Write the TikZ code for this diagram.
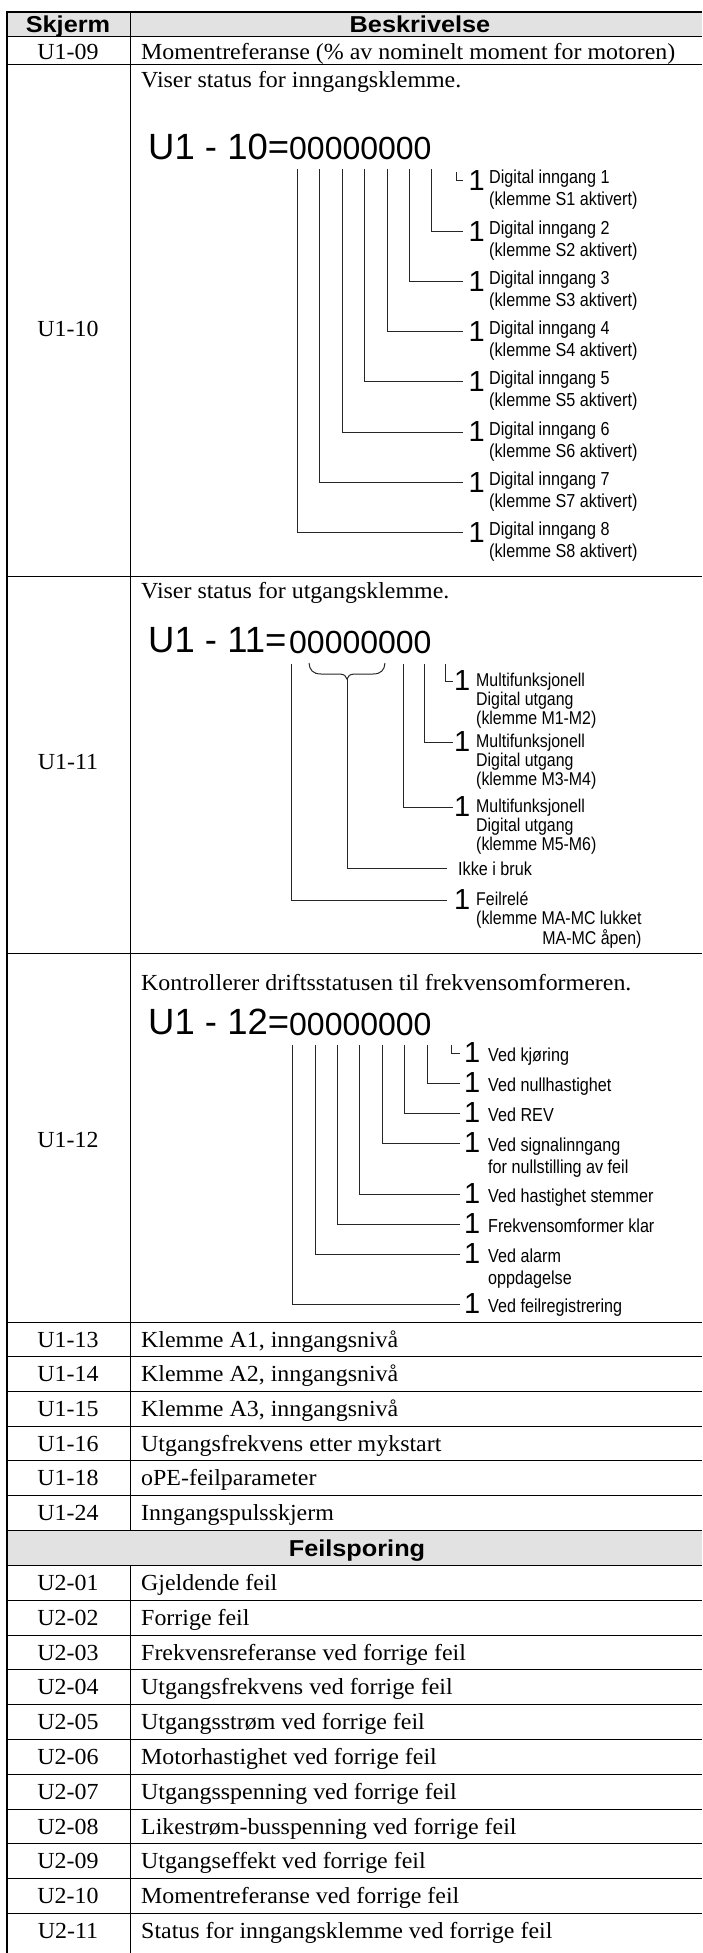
\documentclass[tikz,border=0pt]{standalone}
\usepackage{fontspec}
\setmainfont{Liberation Serif}
\newfontfamily\cellfont[FakeStretch=1.04]{Liberation Serif}
\newfontfamily\narrowfont[FakeStretch=0.86]{Liberation Sans}
\newfontfamily\plainsans{Liberation Sans}
\newfontfamily\hdrfont[FakeStretch=1.1]{Liberation Sans}
\definecolor{hdrgray}{HTML}{E2E2E2}
\newcommand\twolines[2]{\begin{tabular}[t]{@{}l@{}}#1\\#2\end{tabular}}
\newcommand\threelines[3]{\begin{tabular}[t]{@{}l@{}}#1\\#2\\#3\end{tabular}}
\tikzset{
  rcell/.style={font=\cellfont\fontsize{23}{27}\selectfont, inner sep=0pt, anchor=base west},
  codecell/.style={font=\cellfont\fontsize{23}{27}\selectfont, inner sep=0pt, anchor=base},
  hdrcell/.style={font=\hdrfont\bfseries\fontsize{23}{27}\selectfont, inner sep=0pt, anchor=base},
  bigcode/.style={font=\plainsans\fontsize{36.5}{40}\selectfont, inner sep=0pt, anchor=base west},
  zerostyle/.style={font=\plainsans\fontsize{32}{36}\selectfont, inner sep=0pt, anchor=base west},
  bigone/.style={font=\plainsans\fontsize{29}{33}\selectfont, inner sep=0pt, anchor=west},
  dlab/.style={font=\narrowfont\fontsize{18.8}{22}\selectfont, inner sep=0pt, anchor=base west},
  dlabtight/.style={font=\narrowfont\fontsize{18.5}{18.9}\selectfont, inner sep=0pt, anchor=base west},
  wire/.style={line width=1pt, draw=black!85},
  tblrule/.style={line width=1pt, draw=black},
  tblframe/.style={line width=2pt, draw=black},
}
\begin{document}
\begin{tikzpicture}[x=1pt,y=-1pt]
\useasboundingbox (0,0) rectangle (702,1953);
% gray bands
\fill[hdrgray] (7,12) rectangle (702,37);
\fill[hdrgray] (7,1530.2) rectangle (702,1565.5);
% header
\node[hdrcell] (hskjerm) at (68,32.5) {Skjerm};
\node[hdrcell] (hbeskr) at (420,32.5) {Beskrivelse};
% U1-09
\node[codecell] (k09) at (68,59.5) {U1-09};
\node[rcell] (v09) at (141,59.5) {Momentreferanse (\% av nominelt moment for motoren)};
% big rows labels
\node[codecell] (k10) at (68,336) {U1-10};
\node[codecell] (k11) at (68,769) {U1-11};
\node[codecell] (k12) at (68,1147) {U1-12};

% ---------- U1-10 ----------
\node[rcell] (d10) at (141,88) {Viser status for inngangsklemme.};
\node[bigcode] (u10) at (148,160) {U1 - 10=};
\node[zerostyle] (z10) at (289,160) {00000000};
\foreach \k/\x/\r in {8/297.5/532.4, 7/319.9/482.2, 6/342.3/432, 5/364.7/381.8, 4/387.1/331.6, 3/409.5/281.4, 2/431.9/231.2}{
  \coordinate (p10b\k) at (\x,169);
  \node[bigone] (o10b\k) at (468.5,\r) {1};
  \node[dlab] (t10b\k) at (489,\r+3) {\twolines{Digital inngang \k}{(klemme S\k{} aktivert)}};
  \draw[wire] (p10b\k) |- ([xshift=-5.5pt]o10b\k.west);
}
\coordinate (p10b1) at (456,172);
\node[bigone] (o10b1) at (468.5,181) {1};
\node[dlab] (t10b1) at (489,184) {\twolines{Digital inngang 1}{(klemme S1 aktivert)}};
\draw[wire] (p10b1) |- ([xshift=-5.5pt]o10b1.west);

% ---------- U1-11 ----------
\node[rcell] (d11) at (141,598) {Viser status for utgangsklemme.};
\node[bigcode] (u11) at (148,652) {U1 - 11=};
\node[zerostyle] (z11) at (289,653) {00000000};
\foreach \k/\x/\r/\m in {3/403/807/M5-M6, 2/424/742/M3-M4, 1/445/681/M1-M2}{
  \coordinate (p11b\k) at (\x,664);
  \node[bigone] (o11b\k) at (454,\r) {1};
  \node[dlabtight] (t11b\k) at (476,\r+5) {\threelines{Multifunksjonell}{Digital utgang}{(klemme \m)}};
  \draw[wire] (p11b\k) |- ([xshift=-1pt]o11b\k.west);
}
\coordinate (p11bl) at (309,663);
\coordinate (p11tip) at (347,679);
\coordinate (p11br) at (385,663);
\draw[wire] (p11bl) .. controls (309.5,670) and (313,674) .. (321,674) -- (339,674)
  .. controls (344,674) and (346.5,676) .. (p11tip)
  .. controls (347.5,676) and (350,674) .. (355,674) -- (373,674)
  .. controls (381,674) and (384.5,670) .. (p11br);
\coordinate (e11ikke) at (447,868);
\node[dlab] (t11ikke) at (458,875) {Ikke i bruk};
\draw[wire] (p11tip) |- (e11ikke);
\coordinate (p11b8) at (291.5,664);
\node[bigone] (o11b8) at (454,900) {1};
\node[dlabtight] (t11b8) at (476,905) {\threelines{Feilrelé}{(klemme MA-MC lukket}{\hfill MA-MC åpen)}};
\draw[wire] (p11b8) |- ([xshift=-7pt]o11b8.west);

% ---------- U1-12 ----------
\node[rcell] (d12) at (141,990) {Kontrollerer driftsstatusen til frekvensomformeren.};
\node[bigcode] (u12) at (148,1034) {U1 - 12=};
\node[zerostyle] (z12) at (289,1035) {00000000};
\foreach \k/\x/\r/\t in {8/292.6/1304/Ved feilregistrering, 6/337.4/1224/Frekvensomformer klar, 5/359.8/1194/Ved hastighet stemmer, 3/404.6/1113/Ved REV, 2/427/1083/Ved nullhastighet, 1/451/1053/Ved kjøring}{
  \coordinate (p12b\k) at (\x,1045);
  \node[bigone] (o12b\k) at (464,\r) {1};
  \node[dlab] (t12b\k) at (488,\r+8) {\t};
  \draw[wire] (p12b\k) |- ([xshift=-4pt]o12b\k.west);
}
\foreach \k/\x/\r/\t/\u in {7/315/1254/Ved alarm/oppdagelse, 4/382.2/1143/Ved signalinngang/for nullstilling av feil}{
  \coordinate (p12b\k) at (\x,1045);
  \node[bigone] (o12b\k) at (464,\r) {1};
  \node[dlab] (t12b\k) at (488,\r+8) {\twolines{\t}{\u}};
  \draw[wire] (p12b\k) |- ([xshift=-4pt]o12b\k.west);
}

% ---------- single rows U1 ----------
\foreach \c/\t [count=\i from 0] in {U1-13/{Klemme A1, inngangsnivå}, U1-14/{Klemme A2, inngangsnivå}, U1-15/{Klemme A3, inngangsnivå}, U1-16/Utgangsfrekvens etter mykstart, U1-18/oPE-feilparameter, U1-24/Inngangspulsskjerm}{
  \pgfmathsetmacro\yt{1322+34.7*\i}
  \node[codecell] (ka\i) at (68,\yt+25) {\c};
  \node[rcell] (va\i) at (141,\yt+25) {\t};
  \draw[tblrule] (7,\yt+34.7) -- (702,\yt+34.7);
}
\node[hdrcell] (hfeil) at (357,1556) {Feilsporing};
\foreach \c/\t [count=\i from 0] in {U2-01/Gjeldende feil, U2-02/Forrige feil, U2-03/Frekvensreferanse ved forrige feil, U2-04/Utgangsfrekvens ved forrige feil, U2-05/Utgangsstrøm ved forrige feil, U2-06/Motorhastighet ved forrige feil, U2-07/Utgangsspenning ved forrige feil, U2-08/Likestrøm-busspenning ved forrige feil, U2-09/Utgangseffekt ved forrige feil, U2-10/Momentreferanse ved forrige feil}{
  \pgfmathsetmacro\yt{1565.5+34.8*\i}
  \node[codecell] (kb\i) at (68,\yt+25) {\c};
  \node[rcell] (vb\i) at (141,\yt+25) {\t};
  \draw[tblrule] (7,\yt+34.8) -- (702,\yt+34.8);
}
\node[codecell] (kb10) at (68,1938.5) {U2-11};
\node[rcell] (vb10) at (141,1938.5) {Status for inngangsklemme ved forrige feil};

% ---------- table rules ----------
\foreach \y in {37,65,576,953,1322,1565.5}{
  \draw[tblrule] (7,\y) -- (702,\y);
}
\draw[tblrule] (130,12) -- (130,1530.2);
\draw[tblrule] (130,1565.5) -- (130,1953);
\draw[tblframe] (6,12) -- (702,12);
\draw[tblframe] (7,11) -- (7,1953);
\end{tikzpicture}
\end{document}
